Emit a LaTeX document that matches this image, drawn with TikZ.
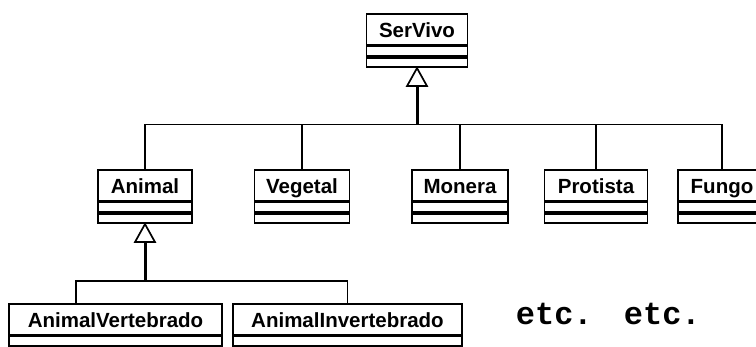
\documentclass[tikz,border=0pt]{standalone}
\usepackage{fontspec}
\usetikzlibrary{positioning}
\newfontfamily\classefont{Liberation Sans}
\newfontfamily\etcfont{Liberation Mono}
% classe UML: nome do no, posicao (topo), largura, texto
\newcommand{\classe}[4]{%
  \node[nome,minimum width=#3] (#1) at (#2) {#4};
  \node[compart,minimum width=#3,below=0pt of #1] (#1-a) {};
  \node[compart,minimum width=#3,below=0pt of #1-a] (#1-b) {};
}
\begin{document}
\begin{tikzpicture}[x=1pt,y=-1pt,line width=1.7pt,
    nome/.style={draw,anchor=north,minimum height=31pt,inner sep=2pt,
      text height=16pt,text depth=0pt,
      font=\classefont\bfseries\fontsize{20.5}{20}\selectfont},
    compart/.style={draw,minimum height=9.5pt,inner sep=0pt},
    haste/.style={line width=3pt},
    seta/.style={line width=1.7pt,fill=white,line join=miter}]
  \useasboundingbox (0,0) rectangle (756,347);
  \clip (0,0) rectangle (756,347);
  \classe{servivo}{417,13}{101pt}{SerVivo}
  \classe{animal}{145,169}{94pt}{Animal}
  \classe{vegetal}{302,169}{95pt}{Vegetal}
  \classe{monera}{460,169}{96pt}{Monera}
  \classe{protista}{596,169}{103pt}{Protista}
  \classe{fungo}{722,169}{88pt}{Fungo}
  \classe{av}{115.5,303}{213pt}{AnimalVertebrado}
  \classe{ai}{347.5,303}{229pt}{AnimalInvertebrado}
  % heranca dos reinos
  \coordinate (juncao) at (417,124.5);
  \draw[haste] (juncao) -- ([yshift=-18pt]servivo-b.south);
  \draw[seta] (servivo-b.south) -- ++(-10,18) -- ++(20,0) -- cycle;
  \draw (animal.north) |- (juncao) -| (fungo.north);
  \foreach \n in {vegetal,monera,protista}
    \draw (\n.north) -- (\n.north |- juncao);
  % heranca dos animais
  \coordinate (juncao2) at (145,281);
  \draw[haste] (juncao2) -- ([yshift=-18pt]animal-b.south);
  \draw[seta] (animal-b.south) -- ++(-10,18) -- ++(20,0) -- cycle;
  \draw ([xshift=68pt]av.north west) |- (juncao2) -| (ai.north);
  \node[anchor=base west,inner sep=0pt,font=\etcfont\bfseries\fontsize{32}{32}\selectfont] (etc) at (515,325) {etc.\ \hspace{12pt}etc.};
\end{tikzpicture}
\end{document}
